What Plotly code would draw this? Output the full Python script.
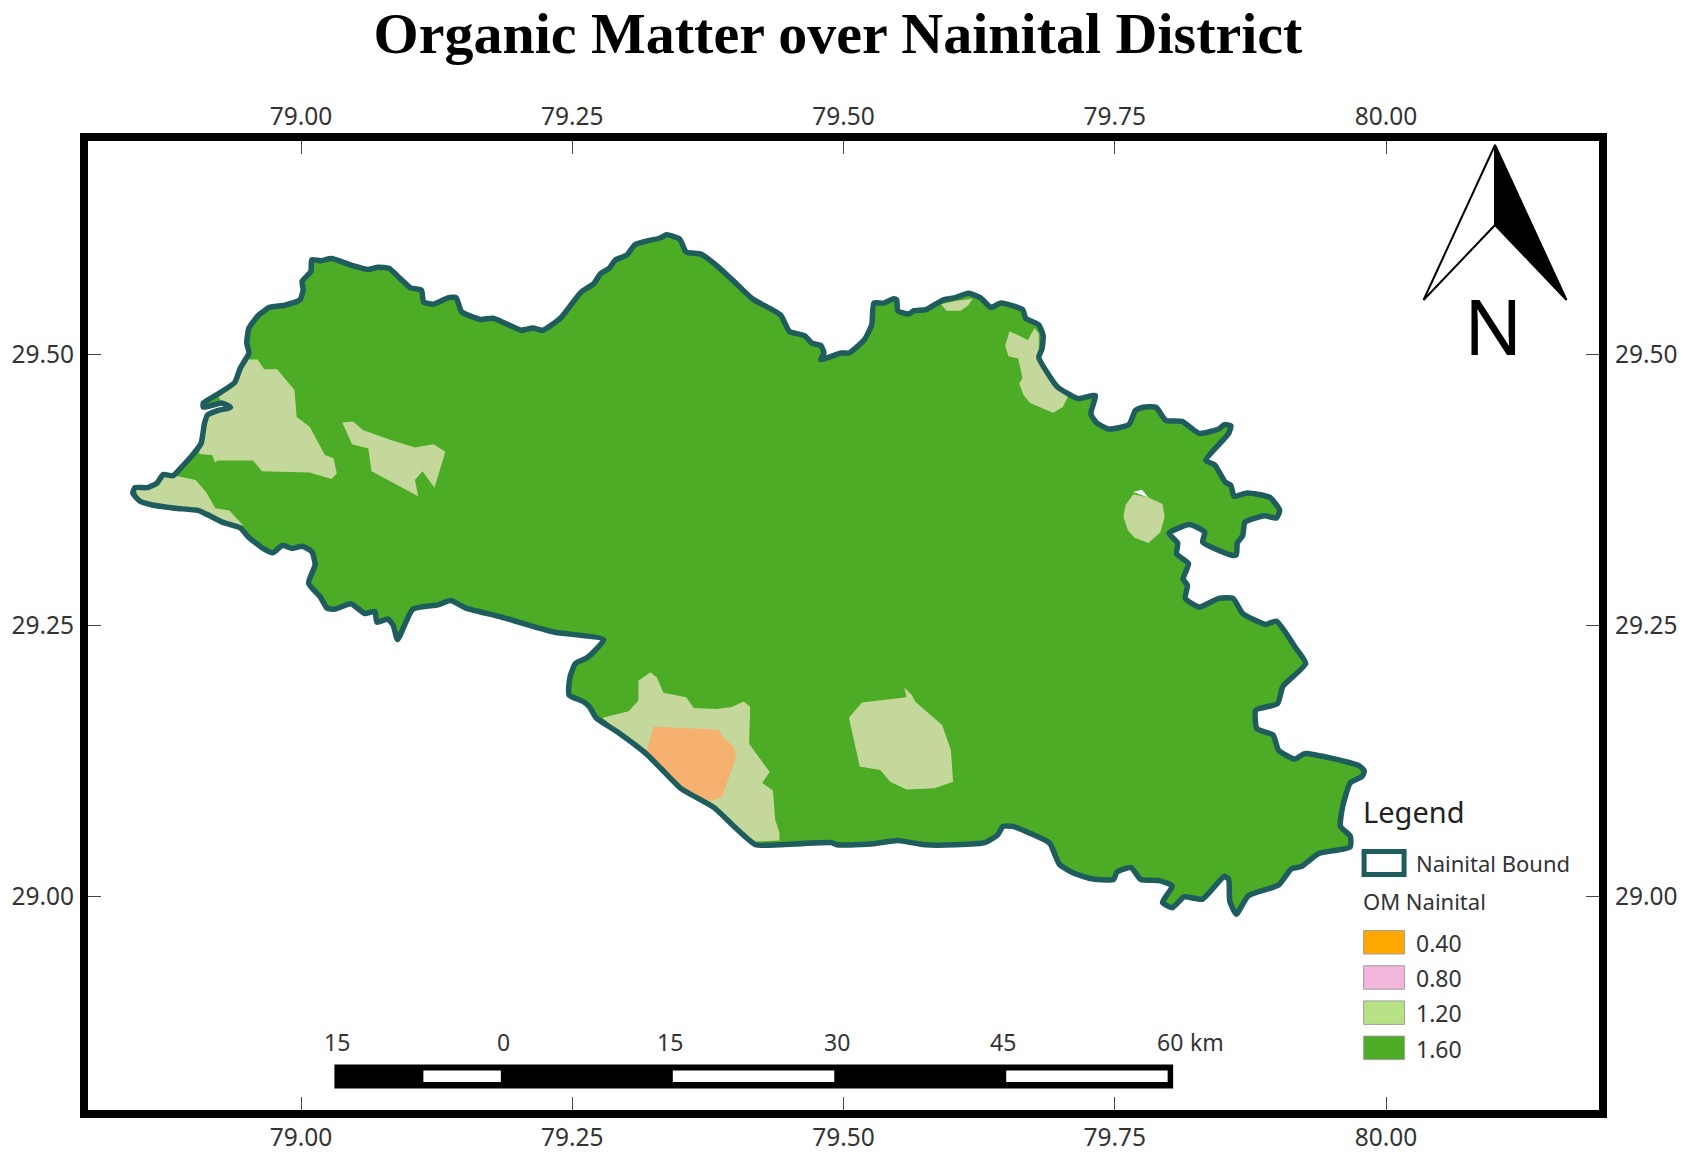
import plotly.graph_objects as go

# District outline, clockwise from the western tip (lon / lat)
boundary_lon = [
    78.845, 78.847, 78.858, 78.867, 78.873, 78.882, 78.891, 78.900, 78.908, 78.911, 78.914, 78.923, 78.935, 78.927,
    78.910, 78.910, 78.923, 78.939, 78.944, 78.952, 78.950, 78.952, 78.961, 78.971, 78.985, 78.999, 79.002, 79.001,
    79.009, 79.010, 79.018, 79.028, 79.046, 79.062, 79.071, 79.081, 79.091, 79.101, 79.111, 79.113, 79.122, 79.136,
    79.143, 79.148, 79.165, 79.177, 79.189, 79.203, 79.214, 79.223, 79.240, 79.258, 79.270, 79.276, 79.284, 79.290,
    79.300, 79.308, 79.331, 79.337, 79.349, 79.355, 79.369, 79.385, 79.398, 79.416, 79.442, 79.450, 79.464, 79.471,
    79.479, 79.482, 79.479, 79.498, 79.505, 79.519, 79.526, 79.528, 79.537, 79.546, 79.549, 79.550, 79.560, 79.565,
    79.576, 79.592, 79.603, 79.615, 79.626, 79.636, 79.645, 79.665, 79.668, 79.680, 79.684, 79.683, 79.680, 79.691,
    79.697, 79.716, 79.732, 79.728, 79.733, 79.744, 79.763, 79.769, 79.776, 79.788, 79.797, 79.812, 79.828, 79.846,
    79.851, 79.857, 79.855, 79.834, 79.842, 79.852, 79.857, 79.860, 79.872, 79.893, 79.902, 79.899, 79.888, 79.870,
    79.868, 79.863, 79.862, 79.857, 79.831, 79.833, 79.819, 79.800, 79.808, 79.807, 79.818, 79.813, 79.817, 79.815,
    79.828, 79.846, 79.859, 79.868, 79.889, 79.899, 79.917, 79.926, 79.905, 79.900, 79.880, 79.881, 79.896, 79.901,
    79.916, 79.925, 79.975, 79.980, 79.978, 79.967, 79.960, 79.958, 79.967, 79.967, 79.938, 79.922, 79.913, 79.901,
    79.873, 79.862, 79.856, 79.855, 79.851, 79.831, 79.814, 79.803, 79.794, 79.803, 79.791, 79.774, 79.765, 79.752,
    79.749, 79.727, 79.712, 79.699, 79.691, 79.688, 79.656, 79.647, 79.642, 79.630, 79.603, 79.575, 79.550, 79.528,
    79.494, 79.489, 79.441, 79.419, 79.399, 79.381, 79.350, 79.332, 79.318, 79.293, 79.272, 79.266, 79.260, 79.247,
    79.248, 79.253, 79.263, 79.268, 79.279, 79.233, 79.184, 79.152, 79.138, 79.126, 79.103, 79.089, 79.085, 79.080,
    79.070, 79.068, 79.059, 79.046, 79.031, 79.024, 79.018, 79.007, 79.013, 79.010, 79.001, 78.992, 78.983, 78.974,
    78.965, 78.951, 78.944, 78.928, 78.914, 78.905, 78.884, 78.863, 78.851, 78.845,
]
boundary_lat = [
    29.372, 29.377, 29.377, 29.381, 29.389, 29.388, 29.397, 29.407, 29.418, 29.436, 29.444, 29.448, 29.451, 29.455,
    29.451, 29.455, 29.463, 29.474, 29.487, 29.501, 29.510, 29.524, 29.536, 29.543, 29.545, 29.550, 29.559, 29.567,
    29.576, 29.587, 29.586, 29.588, 29.582, 29.578, 29.580, 29.579, 29.570, 29.561, 29.559, 29.548, 29.546, 29.552,
    29.552, 29.539, 29.532, 29.533, 29.528, 29.522, 29.524, 29.522, 29.534, 29.557, 29.565, 29.574, 29.579, 29.587,
    29.591, 29.601, 29.607, 29.610, 29.606, 29.594, 29.592, 29.580, 29.568, 29.551, 29.536, 29.521, 29.517, 29.510,
    29.508, 29.501, 29.495, 29.501, 29.501, 29.513, 29.527, 29.547, 29.547, 29.551, 29.550, 29.540, 29.537, 29.540,
    29.541, 29.550, 29.552, 29.556, 29.552, 29.543, 29.547, 29.541, 29.533, 29.527, 29.517, 29.505, 29.497, 29.478,
    29.470, 29.459, 29.462, 29.445, 29.437, 29.431, 29.435, 29.448, 29.451, 29.451, 29.439, 29.438, 29.427, 29.431,
    29.435, 29.434, 29.427, 29.402, 29.398, 29.382, 29.379, 29.369, 29.372, 29.368, 29.356, 29.349, 29.351, 29.345,
    29.333, 29.326, 29.315, 29.315, 29.327, 29.336, 29.343, 29.335, 29.326, 29.316, 29.307, 29.293, 29.287, 29.275,
    29.267, 29.275, 29.275, 29.261, 29.251, 29.254, 29.229, 29.215, 29.194, 29.178, 29.172, 29.155, 29.149, 29.135,
    29.127, 29.132, 29.121, 29.116, 29.111, 29.105, 29.083, 29.065, 29.056, 29.046, 29.040, 29.028, 29.026, 29.011,
    29.001, 28.984, 28.996, 29.016, 29.019, 28.998, 29.000, 28.990, 28.995, 29.010, 29.015, 29.016, 29.027, 29.023,
    29.016, 29.017, 29.022, 29.030, 29.048, 29.051, 29.065, 29.065, 29.057, 29.050, 29.048, 29.048, 29.052, 29.049,
    29.048, 29.050, 29.048, 29.048, 29.065, 29.082, 29.100, 29.118, 29.132, 29.151, 29.165, 29.175, 29.180, 29.186,
    29.203, 29.215, 29.220, 29.224, 29.237, 29.244, 29.258, 29.266, 29.273, 29.269, 29.265, 29.237, 29.250, 29.256,
    29.253, 29.263, 29.261, 29.270, 29.265, 29.266, 29.276, 29.289, 29.306, 29.318, 29.323, 29.321, 29.324, 29.317,
    29.321, 29.332, 29.340, 29.345, 29.352, 29.356, 29.358, 29.361, 29.365, 29.372,
]

# OM class 1.20 patches
patches_lon = [
    [78.951, 78.960, 78.966, 78.978, 78.994, 78.996, 79.008, 79.022, 79.030, 79.033, 79.028, 79.008, 78.964, 78.956,
     78.923, 78.921, 78.918, 78.906, 78.911, 78.914, 78.923, 78.935, 78.927, 78.923, 78.939, 78.944],
    [79.038, 79.048, 79.057, 79.082, 79.105, 79.122, 79.133, 79.123, 79.112, 79.105, 79.108, 79.065, 79.062, 79.047],
    [78.884, 78.903, 78.913, 78.921, 78.934, 78.947, 78.928, 78.914, 78.905, 78.884, 78.863, 78.851, 78.847, 78.858,
     78.867, 78.873],
    [79.278, 79.302, 79.311, 79.311, 79.322, 79.328, 79.334, 79.355, 79.362, 79.383, 79.397, 79.408, 79.414, 79.413,
     79.432, 79.425, 79.435, 79.437, 79.441, 79.441, 79.419, 79.399, 79.381, 79.350, 79.332, 79.318, 79.293],
    [79.517, 79.558, 79.556, 79.563, 79.566, 79.591, 79.599, 79.601, 79.584, 79.558, 79.543, 79.534, 79.515, 79.505],
    [79.590, 79.603, 79.619, 79.615, 79.608, 79.595],
    [79.653, 79.670, 79.676, 79.680, 79.680, 79.691, 79.697, 79.707, 79.702, 79.693, 79.672, 79.666, 79.662, 79.665,
     79.661, 79.652, 79.649],
    [79.767, 79.781, 79.794, 79.796, 79.792, 79.781, 79.768, 79.762, 79.758, 79.760],
]
patches_lat = [
    [29.495, 29.495, 29.486, 29.486, 29.467, 29.442, 29.433, 29.407, 29.404, 29.390, 29.385, 29.391, 29.392, 29.402,
     29.402, 29.400, 29.407, 29.408, 29.436, 29.444, 29.448, 29.451, 29.455, 29.463, 29.474, 29.487],
    [29.437, 29.438, 29.430, 29.421, 29.414, 29.417, 29.410, 29.377, 29.392, 29.384, 29.369, 29.392, 29.413, 29.417],
    [29.388, 29.384, 29.372, 29.358, 29.356, 29.342, 29.345, 29.352, 29.356, 29.358, 29.361, 29.365, 29.377, 29.377,
     29.381, 29.389],
    [29.165, 29.171, 29.181, 29.199, 29.207, 29.202, 29.188, 29.184, 29.174, 29.173, 29.175, 29.180, 29.175, 29.141,
     29.115, 29.105, 29.098, 29.071, 29.059, 29.052, 29.051, 29.065, 29.082, 29.100, 29.118, 29.132, 29.151],
    [29.179, 29.184, 29.193, 29.186, 29.180, 29.158, 29.135, 29.106, 29.100, 29.099, 29.106, 29.117, 29.120, 29.165],
    [29.546, 29.549, 29.551, 29.545, 29.540, 29.540],
    [29.521, 29.513, 29.524, 29.519, 29.497, 29.478, 29.470, 29.461, 29.451, 29.446, 29.455, 29.462, 29.473, 29.478,
     29.496, 29.498, 29.508],
    [29.371, 29.368, 29.362, 29.350, 29.336, 29.326, 29.331, 29.338, 29.350, 29.361],
]

# OM class 0.40 patch
low_lon = [79.325, 79.385, 79.388, 79.399, 79.401, 79.395, 79.388, 79.378, 79.350, 79.332, 79.318, 79.321]
low_lat = [29.157, 29.154, 29.148, 29.138, 29.129, 29.112, 29.092, 29.088, 29.100, 29.118, 29.134, 29.143]

# small gap in the data above the eastern patch
gap_lon = [79.767, 79.775, 79.781]
gap_lat = [29.373, 29.375, 29.368]

lon_ticks = [79.0, 79.25, 79.5, 79.75, 80.0]
lat_ticks = [29.0, 29.25, 29.5]

om_labels = ["0.40", "0.80", "1.20", "1.60"]
om_colors = ["#ffa800", "#f1b6da", "#b8e186", "#4dac26"]
scale_labels = ["15", "0", "15", "30", "45", "60"]

TITLE = "Organic Matter over Nainital District"
BOUND_COLOR = "#1f5c5e"
PATCH_COLOR = "#c5d89b"
LOW_COLOR = "#f6b06f"
FONT = "Noto Sans"
TEXT_COLOR = "#333333"

W, H = 1686, 1162
L, R, T, B = 83.5, 1603, 137, 1114


def px(x):
    return (x - L) / (R - L)


def py(y):
    return 1 - (y - T) / (B - T)


def label(x, y, text, size, anchor="left", color=TEXT_COLOR):
    return dict(xref="paper", yref="paper", x=px(x), y=py(y), text=text, showarrow=False, xanchor=anchor,
                yanchor="middle", font=dict(family=FONT, size=size, color=color), borderpad=0, borderwidth=0)


def box(x0, y0, x1, y1, fill, line="rgba(0,0,0,0)", width=0):
    return dict(type="rect", xref="paper", yref="paper", x0=px(x0), x1=px(x1), y0=py(y0), y1=py(y1),
                fillcolor=fill, line=dict(color=line, width=width), layer="above")


def poly(points, fill, line, width):
    path = "M " + " L ".join(f"{px(x)},{py(y)}" for x, y in points) + " Z"
    return dict(type="path", xref="paper", yref="paper", path=path, fillcolor=fill,
                line=dict(color=line, width=width), layer="above")


fig = go.Figure()

fig.add_trace(go.Scatter(x=boundary_lon, y=boundary_lat, mode="lines", fill="toself", fillcolor=om_colors[3],
                         line=dict(width=0, shape="spline", smoothing=0.5), name="1.60", showlegend=False))
for lons, lats in zip(patches_lon, patches_lat):
    fig.add_trace(go.Scatter(x=lons, y=lats, mode="lines", fill="toself", fillcolor=PATCH_COLOR,
                             line=dict(width=0), name="1.20", showlegend=False))
fig.add_trace(go.Scatter(x=low_lon, y=low_lat, mode="lines", fill="toself", fillcolor=LOW_COLOR,
                         line=dict(width=0), name="0.40", showlegend=False))
fig.add_trace(go.Scatter(x=gap_lon, y=gap_lat, mode="lines", fill="toself", fillcolor="white",
                         line=dict(width=0), showlegend=False))
fig.add_trace(go.Scatter(x=boundary_lon, y=boundary_lat, mode="lines", name="Nainital Bound", showlegend=False,
                         line=dict(color=BOUND_COLOR, width=5.5, shape="spline", smoothing=0.5)))
# empty trace so the top and right axes get drawn
fig.add_trace(go.Scatter(x=[], y=[], xaxis="x2", yaxis="y2", showlegend=False))

# automargin off, the default template would move the frame to fit the labels
axis_style = dict(showgrid=False, zeroline=False, showline=False, automargin=False, ticks="inside", ticklen=17,
                  tickwidth=1, tickcolor="#444444", tickformat=".2f",
                  tickfont=dict(family=FONT, size=24.5, color=TEXT_COLOR))

shapes = []
annotations = []

# legend
annotations.append(label(1363, 811, "Legend", 29, color="#222222"))
shapes.append(box(1364, 851.5, 1404, 874.5, "white", BOUND_COLOR, 5))
annotations.append(label(1416, 863, "Nainital Bound", 22))
annotations.append(label(1363, 901, "OM Nainital", 22))
for i, (txt, col) in enumerate(zip(om_labels, om_colors)):
    y0 = 930.5 + i * 35.2
    shapes.append(box(1363.5, y0, 1404.5, y0 + 23.5, col, "#a0a0a0", 1))
    annotations.append(label(1416, y0 + 12.5, txt, 23))

# scale bar
shapes.append(box(334, 1064.5, 1173, 1088.5, "black"))
shapes.append(box(423, 1070.5, 500.5, 1082, "white"))
shapes.append(box(672.5, 1070.5, 834, 1082, "white"))
shapes.append(box(1006, 1070.5, 1167.5, 1082, "white"))
for i, txt in enumerate(scale_labels):
    annotations.append(label(336.5 + i * 166.6, 1042, txt, 23, anchor="center"))
annotations.append(label(1190, 1042, "km", 23))

# north arrow
shapes.append(poly([(1495, 145), (1423.5, 300), (1495, 225)], "white", "black", 2))
shapes.append(poly([(1495, 145), (1566.5, 300), (1495, 225)], "black", "black", 2))
annotations.append(label(1493, 325, "N", 77, anchor="center", color="black"))

# map frame
shapes.append(dict(type="rect", xref="paper", yref="paper", x0=0, x1=1, y0=0, y1=1,
                   line=dict(color="black", width=8), layer="above"))

fig.update_layout(
    width=W, height=H,
    margin=dict(l=L, r=W - R, t=T, b=H - B, pad=0),
    paper_bgcolor="white", plot_bgcolor="white",
    showlegend=False,
    title=dict(text=f"<b>{TITLE}</b>", x=838 / W, xanchor="center", y=1 - 33 / H, yanchor="middle",
               font=dict(family="Liberation Serif", size=58, color="black")),
    xaxis=dict(range=[78.8, 80.2], tickvals=lon_ticks, side="bottom", ticklabelstandoff=6, **axis_style),
    yaxis=dict(range=[28.8, 29.7], tickvals=lat_ticks, side="left", ticklabelstandoff=9, **axis_style),
    xaxis2=dict(range=[78.8, 80.2], tickvals=lon_ticks, side="top", overlaying="x", ticklabelstandoff=6, **axis_style),
    yaxis2=dict(range=[28.8, 29.7], tickvals=lat_ticks, side="right", overlaying="y", ticklabelstandoff=11, **axis_style),
    shapes=shapes,
    annotations=annotations,
)

# no page margin or overflow, the figure fills the window exactly
page_css = ("document.body.style.margin='0';document.body.style.overflow='hidden';"
            "document.documentElement.style.overflow='hidden';")
fig.write_html("out.html", post_script=page_css, config=dict(displayModeBar=False))
